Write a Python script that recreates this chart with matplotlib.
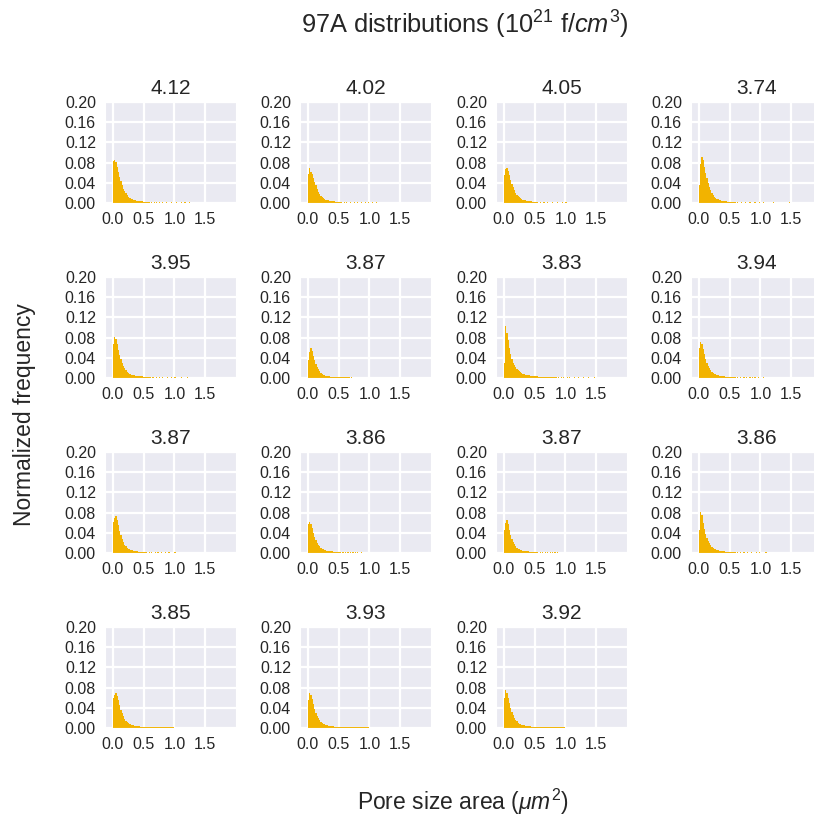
import numpy as np
import matplotlib
matplotlib.use("Agg")
import matplotlib.pyplot as plt
import seaborn as sns

sns.set_style("darkgrid")
plt.rcParams['font.family'] = ['Liberation Sans', 'DejaVu Sans']
plt.rcParams['mathtext.fontset'] = 'custom'
plt.rcParams['mathtext.rm'] = 'Liberation Sans'
plt.rcParams['mathtext.it'] = 'Liberation Sans:italic'
plt.rcParams['grid.linewidth'] = 1.6

# Fibre densities (10^21 f/cm^3) used as panel titles
densities = ["4.12", "4.02", "4.05", "3.74", "3.95", "3.87", "3.83", "3.94",
             "3.87", "3.86", "3.87", "3.86", "3.85", "3.93", "3.92"]

bin_width = 0.02

# Normalized frequency per 0.02 um^2 bin, starting at 0
h01 = [0.083, 0.086, 0.082, 0.072, 0.062, 0.052, 0.043, 0.035, 0.028, 0.023, 0.019, 0.015, 0.012, 0.010, 0.009,
       0.007, 0.006, 0.005, 0.005, 0.004, 0.004, 0.003, 0.003, 0.003, 0.002, 0.002, 0.002, 0.002, 0.002, 0.001]
h02 = [0.058, 0.070, 0.062, 0.058, 0.050, 0.042, 0.035, 0.028, 0.022, 0.018, 0.014, 0.011, 0.009, 0.008, 0.006,
       0.005, 0.005, 0.004, 0.004, 0.003, 0.003, 0.003, 0.002, 0.002, 0.002, 0.002, 0.001, 0.001]
h03 = [0.055, 0.068, 0.070, 0.064, 0.056, 0.046, 0.038, 0.031, 0.025, 0.020, 0.016, 0.013, 0.011, 0.009, 0.007,
       0.006, 0.005, 0.005, 0.004, 0.004, 0.003, 0.003, 0.003, 0.002, 0.002, 0.002, 0.002, 0.001]
h04 = [0.035, 0.078, 0.092, 0.085, 0.072, 0.060, 0.050, 0.040, 0.032, 0.025, 0.020, 0.016, 0.012, 0.010, 0.008,
       0.007, 0.006, 0.005, 0.004, 0.004, 0.003, 0.003, 0.003, 0.002, 0.002, 0.002, 0.002, 0.002, 0.001, 0.001]
h05 = [0.068, 0.082, 0.078, 0.068, 0.056, 0.046, 0.037, 0.030, 0.024, 0.019, 0.015, 0.012, 0.010, 0.008, 0.007,
       0.006, 0.005, 0.005, 0.004, 0.004, 0.003, 0.003, 0.003, 0.003, 0.002, 0.002, 0.002, 0.002, 0.002, 0.001, 0.001]
h06 = [0.035, 0.052, 0.060, 0.054, 0.044, 0.036, 0.028, 0.022, 0.017, 0.013, 0.010, 0.008, 0.006, 0.005, 0.004,
       0.003, 0.003, 0.003, 0.002, 0.002, 0.002, 0.002, 0.002, 0.002, 0.002, 0.002, 0.002, 0.002, 0.002, 0.002,
       0.001, 0.001, 0.001, 0.001]
h07 = [0.030, 0.102, 0.090, 0.075, 0.060, 0.048, 0.038, 0.030, 0.025, 0.021, 0.018, 0.015, 0.013, 0.011, 0.009,
       0.008, 0.007, 0.006, 0.006, 0.005, 0.005, 0.004, 0.004, 0.004, 0.003, 0.003, 0.003, 0.003, 0.002, 0.002,
       0.002, 0.002, 0.002, 0.002, 0.002, 0.001, 0.001, 0.001, 0.001, 0.001, 0.001, 0.001, 0.001]
h08 = [0.060, 0.072, 0.068, 0.058, 0.048, 0.038, 0.030, 0.024, 0.019, 0.015, 0.012, 0.010, 0.008, 0.007, 0.006,
       0.005, 0.004, 0.004, 0.003, 0.003, 0.003, 0.002, 0.002, 0.002, 0.002, 0.002, 0.002, 0.001, 0.001, 0.001]
h09 = [0.062, 0.070, 0.074, 0.066, 0.055, 0.044, 0.035, 0.027, 0.021, 0.016, 0.013, 0.010, 0.008, 0.007, 0.006,
       0.005, 0.004, 0.004, 0.003, 0.003, 0.002, 0.002, 0.002, 0.002, 0.002, 0.002, 0.001, 0.001]
h10 = [0.058, 0.062, 0.058, 0.050, 0.040, 0.032, 0.025, 0.020, 0.016, 0.013, 0.010, 0.008, 0.007, 0.006, 0.005,
       0.004, 0.004, 0.003, 0.003, 0.003, 0.002, 0.002, 0.002, 0.002, 0.002, 0.001, 0.001]
h11 = [0.045, 0.060, 0.066, 0.058, 0.046, 0.036, 0.028, 0.022, 0.017, 0.013, 0.010, 0.008, 0.007, 0.006, 0.005,
       0.004, 0.004, 0.003, 0.003, 0.003, 0.002, 0.002, 0.002, 0.002, 0.002, 0.002, 0.001, 0.001]
h12 = [0.045, 0.081, 0.075, 0.060, 0.048, 0.038, 0.030, 0.024, 0.019, 0.015, 0.012, 0.010, 0.008, 0.007, 0.006,
       0.005, 0.004, 0.004, 0.003, 0.003, 0.003, 0.002, 0.002, 0.002, 0.002, 0.002, 0.002, 0.001, 0.001, 0.001]
h13 = [0.060, 0.066, 0.070, 0.064, 0.055, 0.045, 0.036, 0.029, 0.023, 0.018, 0.014, 0.011, 0.009, 0.008, 0.007,
       0.006, 0.005, 0.004, 0.004, 0.003, 0.003, 0.003, 0.002, 0.002, 0.002, 0.002, 0.002, 0.002, 0.002, 0.002,
       0.001, 0.001, 0.001, 0.001, 0.001, 0.001, 0.001, 0.001, 0.001, 0.001, 0.001, 0.001, 0.001, 0.001, 0.001,
       0.001, 0.001, 0.001, 0.001, 0.001]
h14 = [0.055, 0.070, 0.066, 0.058, 0.048, 0.038, 0.030, 0.024, 0.019, 0.015, 0.012, 0.010, 0.008, 0.007, 0.006,
       0.005, 0.004, 0.004, 0.003, 0.003, 0.003, 0.002, 0.002, 0.002, 0.002, 0.001, 0.001, 0.001, 0.001, 0.001,
       0.001, 0.001, 0.001, 0.001, 0.001, 0.001, 0.001, 0.001, 0.001, 0.001, 0.001, 0.001, 0.001, 0.001, 0.001,
       0.001, 0.001, 0.001, 0.001, 0.001]
h15 = [0.060, 0.076, 0.070, 0.060, 0.050, 0.040, 0.032, 0.025, 0.020, 0.016, 0.013, 0.010, 0.008, 0.007, 0.006,
       0.005, 0.005, 0.004, 0.004, 0.003, 0.003, 0.003, 0.002, 0.002, 0.002, 0.002, 0.002, 0.001, 0.001, 0.001,
       0.001, 0.001, 0.001, 0.001, 0.001, 0.001, 0.001, 0.001, 0.001, 0.001, 0.001, 0.001, 0.001, 0.001, 0.001,
       0.001, 0.001, 0.001, 0.001, 0.001]

# Isolated large pores (left edge of bin, um^2), each a single low count
t01 = [0.62, 0.66, 0.70, 0.74, 0.80, 0.86, 0.94, 1.02, 1.10, 1.16, 1.24]
t02 = [0.58, 0.62, 0.68, 0.74, 0.80, 0.86, 0.92, 0.98, 1.04, 1.10]
t03 = [0.58, 0.64, 0.70, 0.78, 0.86, 0.94, 1.00]
t04 = [0.62, 0.68, 0.74, 0.82, 0.90, 0.98, 1.04, 1.20, 1.46]
t05 = [0.64, 0.70, 0.74, 0.80, 0.88, 0.94, 1.00, 1.10, 1.20]
t06 = [0.70]
t07 = [0.88, 0.92, 0.96, 1.02, 1.06, 1.14, 1.20, 1.28, 1.36, 1.46]
t08 = [0.62, 0.66, 0.72, 0.76, 0.82, 0.86, 0.90, 0.96, 1.04]
t09 = [0.58, 0.62, 0.68, 0.72, 0.78, 0.84, 0.90, 1.00]
t10 = [0.56, 0.60, 0.64, 0.68, 0.72, 0.76, 0.80, 0.86]
t11 = [0.58, 0.62, 0.66, 0.70, 0.74, 0.78, 0.82, 0.86]
t12 = [0.62, 0.66, 0.72, 0.78, 0.84, 0.92, 0.98, 1.08]
t13 = []
t14 = []
t15 = []
tail_height = 0.0015

heights = [h01, h02, h03, h04, h05, h06, h07, h08, h09, h10, h11, h12, h13, h14, h15]
tails = [t01, t02, t03, t04, t05, t06, t07, t08, t09, t10, t11, t12, t13, t14, t15]

yticks = [0.00, 0.04, 0.08, 0.12, 0.16, 0.20]
xticks = [0.0, 0.5, 1.0, 1.5]
bar_color = "#F2B300"

W, H = 814, 816
fig = plt.figure(figsize=(W / 100, H / 100), dpi=100)

col_left = [105, 300, 496, 691]
row_top = [102, 277, 452, 627]
ax_w, ax_h = 131, 101

for i, (hs, tl, title) in enumerate(zip(heights, tails, densities)):
    r, c = divmod(i, 4)
    ax = fig.add_axes([col_left[c] / W, 1 - (row_top[r] + ax_h) / H, ax_w / W, ax_h / H])
    edges = np.arange(len(hs)) * bin_width
    ax.bar(edges, hs, width=bin_width, align='edge', color=bar_color, linewidth=0)
    if tl:
        ax.bar(tl, [tail_height] * len(tl), width=bin_width, align='edge', color=bar_color, linewidth=0)
    ax.set_xlim(-0.13, 2.0)
    ax.set_ylim(0, 0.2)
    ax.set_xticks(xticks)
    ax.set_xticklabels([f"{v:.1f}" for v in xticks])
    ax.set_yticks(yticks)
    ax.set_yticklabels([f"{v:.2f}" for v in yticks])
    ax.tick_params(labelsize=11.5, colors="#262626", pad=3)
    ax.set_title(title, fontsize=15, color="#262626", pad=6)

fig.text(465 / W, 1 - 25 / H, r"97A distributions ($10^{21}$ f/$cm^3$)",
         ha='center', va='center', fontsize=18.3, color="#262626")
fig.text(463 / W, 1 - 802 / H, r"Pore size area ($\mu m^2$)",
         ha='center', va='center', fontsize=16.5, color="#262626")
fig.text(25 / W, 1 - 415 / H, "Normalized frequency", rotation=90,
         ha='center', va='center', fontsize=16.5, color="#262626")

fig.savefig("out.png", dpi=100, facecolor="white")
